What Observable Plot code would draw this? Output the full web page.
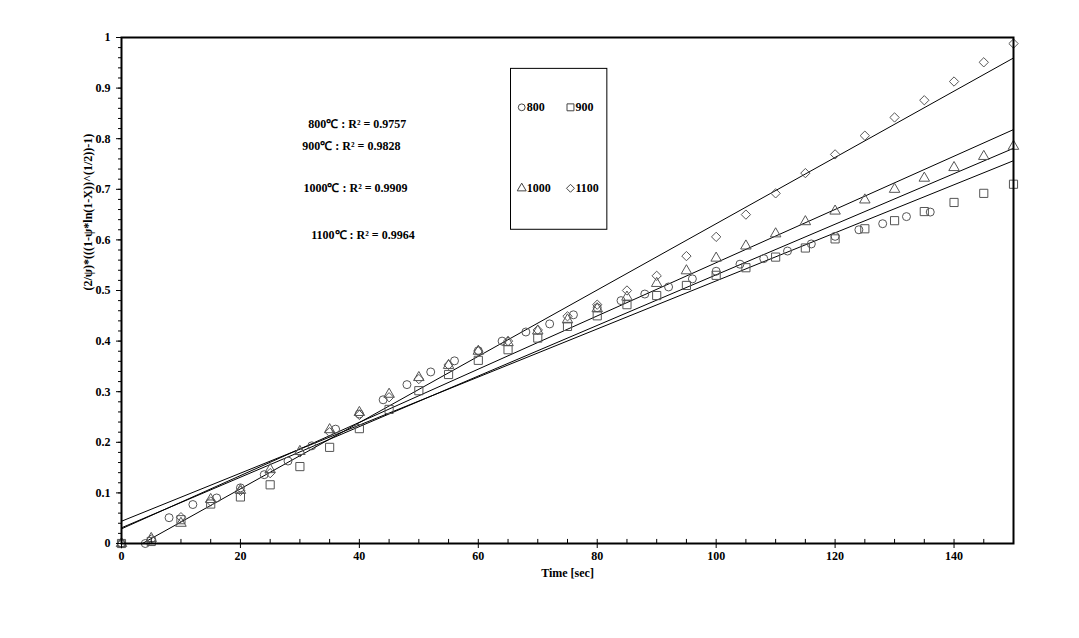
<!DOCTYPE html>
<html><head><meta charset="utf-8">
<script src="https://cdn.jsdelivr.net/npm/d3@7"></script>
<script src="https://cdn.jsdelivr.net/npm/@observablehq/plot@0.6"></script>
<style>body{margin:0;background:#fff}#chart{position:absolute;left:0;top:0}</style>
</head><body><div id="chart"></div>
<script>
// ---- data ----
const time800 = [0,4,8,12,16,20,24,28,32,36,40,44,48,52,56,60,64,68,72,76,80,84,88,92,96,100,104,108,112,116,120,124,128,132,136];
const y800 = [0,0,0.051,0.077,0.090,0.110,0.136,0.163,0.193,0.226,0.256,0.284,0.314,0.339,0.361,0.381,0.400,0.418,0.434,0.452,0.466,0.480,0.493,0.507,0.523,0.538,0.552,0.563,0.578,0.592,0.607,0.620,0.632,0.646,0.655];
const time5 = [0,5,10,15,20,25,30,35,40,45,50,55,60,65,70,75,80,85,90,95,100,105,110,115,120,125,130,135,140,145,150];
const y900 = [0,0.004,0.047,0.078,0.092,0.116,0.152,0.190,0.227,0.265,0.302,0.334,0.362,0.383,0.406,0.429,0.450,0.472,0.490,0.510,0.530,0.545,0.566,0.584,0.602,0.622,0.638,0.656,0.674,0.692,0.710];
const y1000 = [0,0.010,0.040,0.087,0.105,0.146,0.182,0.225,0.259,0.295,0.328,0.352,0.380,0.397,0.420,0.442,0.464,0.487,0.514,0.539,0.564,0.588,0.612,0.636,0.657,0.679,0.700,0.722,0.743,0.765,0.785];
const y1100 = [0,0.008,0.052,0.083,0.104,0.139,0.180,0.220,0.254,0.289,0.325,0.353,0.380,0.400,0.422,0.449,0.472,0.500,0.529,0.568,0.606,0.650,0.692,0.732,0.769,0.806,0.842,0.876,0.913,0.951,0.988];
const seriesNames = ["800","900","1000","1100"];
const seriesSymbols = ["circle","square","triangle","diamond2"];
const fitIntercept = [0.044, 0.031, 0.029, -0.023];
const fitSlope = [0.00475, 0.0050, 0.00526, 0.00655];
const r2Labels = ["800\u2103 : R\u00B2 = 0.9757","900\u2103 : R\u00B2 = 0.9828","1000\u2103 : R\u00B2 = 0.9909","1100\u2103 : R\u00B2 = 0.9964"];
const r2X = [31.4, 30.4, 30.6, 31.9];
const r2Y = [0.828, 0.785, 0.702, 0.609];
const xTicks = [0,20,40,60,80,100,120,140];
const xMinor = d3.range(0,151,5);
const yTicks = [0,0.1,0.2,0.3,0.4,0.5,0.6,0.7,0.8,0.9,1];
const yMinor = d3.range(0,51).map(i => i/50);
const xLabel = "Time [sec]";
const yLabel = "(2/\u03C8)*(((1-\u03C8*ln(1-X))^(1/2))-1)";
// legend layout (data units)
const legendBox = [{x1:65.5, x2:81.7, y1:0.620, y2:0.938}];
const legendX = [67.3, 75.5, 67.3, 75.5];
const legendY = [0.862, 0.862, 0.702, 0.702];

// ---- build tables ----
const yAll = [y800, y900, y1000, y1100];
const tAll = [time800, time5, time5, time5];
const points = [];
seriesNames.forEach((s,i) => tAll[i].forEach((t,j) => points.push({series:s, t, v:yAll[i][j]})));
const fits = [];
seriesNames.forEach((s,i) => [0,150].forEach(t => fits.push({series:s, t, v: fitIntercept[i] + fitSlope[i]*t})));
const annots = r2Labels.map((text,i) => ({text, x:r2X[i], y:r2Y[i]}));
const legend = seriesNames.map((s,i) => ({s, x:legendX[i], y:legendY[i], sym:seriesSymbols[i]}));
const symR = {circle:4, square:4.6, triangle:3.9, diamond2:4.2};

const dotMarks = seriesNames.map((s,i) => Plot.dot(points.filter(d => d.series===s), {
  x:"t", y:"v", symbol: seriesSymbols[i], r: symR[seriesSymbols[i]], stroke:"#555", fill:"none", strokeWidth:1
}));
const legendDots = legend.map(d => Plot.dot([d], {x:"x", y:"y", symbol:d.sym, r: symR[d.sym]*0.85, stroke:"#444", fill:"none", strokeWidth:1}));

const plot = Plot.plot({
  width:1079, height:638,
  marginLeft:121, marginRight:66, marginTop:37, marginBottom:95,
  style:{fontFamily:"'Liberation Serif','Times New Roman',serif", fontSize:"12px", fontWeight:"bold", color:"#000", background:"#fff", overflow:"visible"},
  x:{domain:[0,150]},
  y:{domain:[0,1]},
  marks:[
    Plot.line(fits, {x:"t", y:"v", z:"series", stroke:"#000", strokeWidth:1, clip:true}),
    ...dotMarks,
    Plot.ruleX(xMinor, {y1:0, y2:0.008, stroke:"#000", strokeWidth:1}),
    Plot.ruleY(yMinor, {x1:-0.5, x2:0, stroke:"#000", strokeWidth:1}),
    Plot.axisX({ticks:xTicks, tickSize:5, tickPadding:3, label:null, tickFormat:d=>String(d), fontWeight:"bold", fontSize:12}),
    Plot.axisY({ticks:yTicks, tickSize:5, tickPadding:6, label:null, tickFormat:d=>String(d), fontWeight:"bold", fontSize:12}),
    Plot.frame({stroke:"#000", strokeWidth:2}),
    Plot.rect(legendBox, {x1:"x1", x2:"x2", y1:"y1", y2:"y2", stroke:"#000", fill:"#fff", strokeWidth:1}),
    ...legendDots,
    Plot.text(legend, {x:"x", y:"y", text:"s", textAnchor:"start", dx:5, fontSize:12, fontWeight:"bold"}),
    Plot.text(annots, {x:"x", y:"y", text:"text", textAnchor:"start", fontSize:12, fontWeight:"bold"}),
    Plot.text([xLabel], {text:d=>d, frameAnchor:"bottom", dy:33, fontSize:12, fontWeight:"bold"}),
    Plot.text([yLabel], {text:d=>d, frameAnchor:"left", rotate:-90, dx:-33, fontSize:12, fontWeight:"bold"})
  ]
});
document.getElementById("chart").appendChild(plot);
</script>
</body></html>
